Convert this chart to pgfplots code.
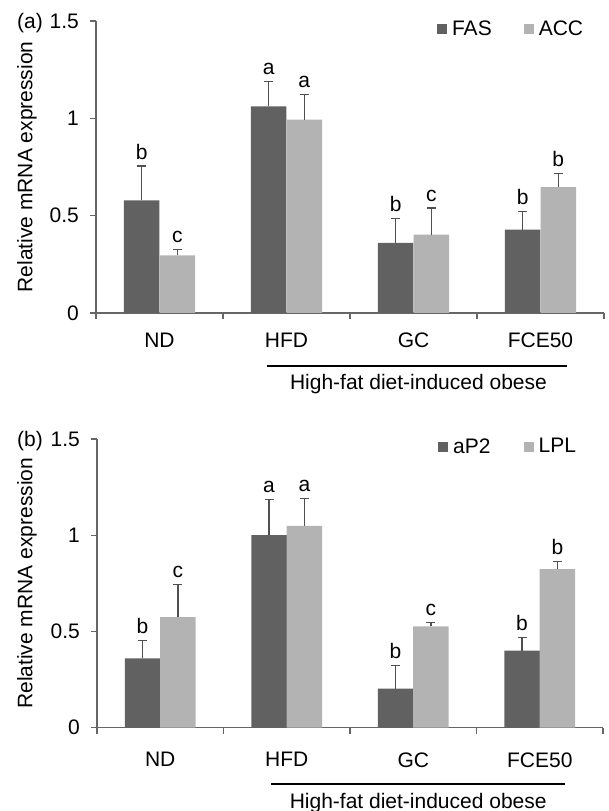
\documentclass[border=0pt]{standalone}
\usepackage{pgfplots}
\pgfplotsset{compat=1.18}
\usepackage{fontspec}
\setmainfont{Liberation Sans}
\definecolor{darkbar}{HTML}{616161}
\definecolor{lightbar}{HTML}{B3B3B3}
\definecolor{axgray}{HTML}{666666}
\definecolor{errgray}{HTML}{505050}
\tikzset{lab/.style={anchor=base, yshift=7pt}}
\pgfplotsset{
  mybars/.style={
    scale only axis, clip=false,
    xmin=0, xmax=4, ymin=0, ymax=1.5,
    axis x line*=bottom, axis y line*=left,
    axis line style={-, draw=axgray, line width=1.3pt},
    tick style={draw=axgray, line width=1.3pt},
    tick align=outside, major tick length=6pt, minor tick length=6pt,
    xtick={0.5,1.5,2.5,3.5}, xticklabels={ND,HFD,GC,FCE50},
    minor xtick={0,1,2,3,4},
    major x tick style={draw=none},
    ytick={0,0.5,1,1.5}, yticklabels={0,0.5,1,1.5},
    yticklabel style={inner sep=0pt, anchor=east, xshift=-11pt},
    font=\fontsize{21}{25}\selectfont,
    /pgf/number format/assume math mode=true,
    legend style={draw=none, fill=none, inner sep=0pt, anchor=west,
      legend columns=2, font=\fontsize{21}{25}\selectfont,
      nodes={inner sep=0pt},
      /tikz/every odd column/.append style={column sep=5pt}},
    legend image code/.code={\fill[#1] (0pt,-5pt) rectangle (10pt,5pt);},
  },
  ebar/.style={
    error bars/.cd, y dir=plus, y explicit,
    error bar style={color=errgray, line width=1.2pt},
    error mark options={rotate=90, mark size=4.5pt, line width=1.2pt, color=errgray},
  },
  darkb/.style={ybar, bar width=35.5pt, bar shift=0pt, fill=darkbar, draw=none, ebar},
  lightb/.style={ybar, bar width=35.5pt, bar shift=0pt, fill=lightbar, draw=none, ebar},
}
\pgfplotstableread{
x y e
0.36 0.579 0.176
1.36 1.061 0.129
2.36 0.360 0.125
3.36 0.428 0.094
}\fas
\pgfplotstableread{
x y e
0.64 0.296 0.029
1.64 0.993 0.128
2.64 0.402 0.137
3.64 0.647 0.070
}\acc
\pgfplotstableread{
x y e
0.36 0.360 0.092
1.36 1.001 0.186
2.36 0.203 0.119
3.36 0.400 0.069
}\apt
\pgfplotstableread{
x y e
0.64 0.574 0.168
1.64 1.048 0.142
2.64 0.527 0.020
3.64 0.824 0.038
}\lpl
\begin{document}
\begin{tikzpicture}[x=1pt,y=1pt]
\useasboundingbox (0,0) rectangle (608,811);
% panel (a)
\begin{axis}[mybars, at={(96pt,498pt)}, width=508pt, height=292pt,
  anchor=south west,
  xticklabel style={inner sep=0pt, anchor=north, yshift=-13.6pt},
  legend style={at={(rel axis cs:0.671,0.974)},
    /tikz/every even column/.append style={column sep=32pt}}]
\addplot[darkb] table[x=x, y=y, y error=e] {\fas};
\addlegendentry{FAS}
\addplot[lightb] table[x=x, y=y, y error=e] {\acc};
\addlegendentry{ACC}
\node[lab] at (axis cs:0.36,0.755) {b};
\node[lab] at (axis cs:0.64,0.325) {c};
\node[lab] at (axis cs:1.36,1.190) {a};
\node[lab] at (axis cs:1.64,1.121) {a};
\node[lab] at (axis cs:2.36,0.485) {b};
\node[lab] at (axis cs:2.64,0.539) {c};
\node[lab] at (axis cs:3.36,0.522) {b};
\node[lab] at (axis cs:3.64,0.717) {b};
\draw[black, line width=2.2pt] ([yshift=-53pt]axis cs:1.346,0) -- ([yshift=-53pt]axis cs:3.709,0);
\node[anchor=base] at ([yshift=-77pt]axis cs:2.539,0) {High-fat diet-induced obese};
\node[rotate=90, anchor=center] at ([xshift=-69pt]axis cs:0,0.75) {Relative mRNA expression};
\node[anchor=base west, inner sep=0pt] at ([xshift=-79pt, yshift=-8pt]axis cs:0,1.5) {(a)};
\end{axis}
% panel (b)
\begin{axis}[mybars, at={(97pt,83.3pt)}, width=506pt, height=288.7pt,
  anchor=south west,
  xticklabel style={inner sep=0pt, anchor=north, yshift=-18.5pt},
  legend style={at={(rel axis cs:0.674,0.974)},
    /tikz/every even column/.append style={column sep=33pt}}]
\addplot[darkb] table[x=x, y=y, y error=e] {\apt};
\addlegendentry{aP2}
\addplot[lightb] table[x=x, y=y, y error=e] {\lpl};
\addlegendentry{LPL}
\node[lab] at (axis cs:0.36,0.452) {b};
\node[lab] at (axis cs:0.64,0.742) {c};
\node[lab] at (axis cs:1.36,1.187) {a};
\node[lab] at (axis cs:1.64,1.190) {a};
\node[lab] at (axis cs:2.36,0.322) {b};
\node[lab] at (axis cs:2.64,0.547) {c};
\node[lab] at (axis cs:3.36,0.469) {b};
\node[lab] at (axis cs:3.64,0.862) {b};
\draw[black, line width=2.2pt] ([yshift=-56.3pt]axis cs:1.378,0) -- ([yshift=-56.3pt]axis cs:3.70,0);
\node[anchor=base] at ([yshift=-80.3pt]axis cs:2.539,0) {High-fat diet-induced obese};
\node[rotate=90, anchor=center] at ([xshift=-70pt]axis cs:0,0.75) {Relative mRNA expression};
\node[anchor=base west, inner sep=0pt] at ([xshift=-80pt, yshift=-7.5pt]axis cs:0,1.5) {(b)};
\end{axis}
\end{tikzpicture}
\end{document}
